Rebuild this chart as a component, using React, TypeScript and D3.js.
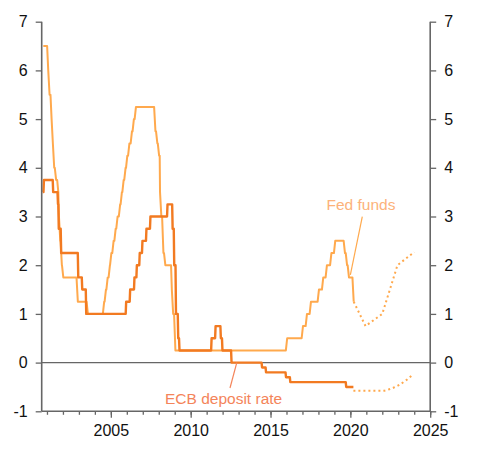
import React from "react";
import * as d3 from "d3";

// Fed funds target (upper bound), change dates as decimal years
const fedStart = { year: 2000.77, rate: 6.5 };
const fedDates = [
  2001.01, 2001.08, 2001.22, 2001.29, 2001.37, 2001.49, 2001.64, 2001.71, 2001.75, 2001.85, 2001.94,
  2002.85, 2003.48,
  2004.5, 2004.61, 2004.72, 2004.86, 2004.95, 2005.09, 2005.22, 2005.34, 2005.5, 2005.61, 2005.72,
  2005.84, 2005.95, 2006.08, 2006.24, 2006.36, 2006.49,
  2007.71, 2007.83, 2007.94, 2008.06, 2008.08, 2008.21, 2008.33, 2008.77, 2008.82, 2008.96,
  2015.96, 2016.95, 2017.2, 2017.45, 2017.95, 2018.22, 2018.45, 2018.73, 2018.97,
  2019.58, 2019.71, 2019.83, 2020.13,
];
const fedRates = [
  6.0, 5.5, 5.0, 4.5, 4.0, 3.75, 3.5, 3.0, 2.5, 2.0, 1.75,
  1.25, 1.0,
  1.25, 1.5, 1.75, 2.0, 2.25, 2.5, 2.75, 3.0, 3.25, 3.5, 3.75,
  4.0, 4.25, 4.5, 4.75, 5.0, 5.25,
  4.75, 4.5, 4.25, 3.5, 3.0, 2.25, 2.0, 1.5, 1.0, 0.25,
  0.5, 0.75, 1.0, 1.25, 1.5, 1.75, 2.0, 2.25, 2.5,
  2.25, 2.0, 1.75, 1.25,
];
const fedEnd = 2020.21;

// ECB deposit facility rate
const ecbStart = { year: 2000.73, rate: 3.5 };
const ecbDates = [
  2000.78, 2001.36, 2001.66, 2001.71, 2001.86, 2002.93, 2003.18, 2003.43,
  2005.93, 2006.18, 2006.45, 2006.6, 2006.78, 2006.95, 2007.2, 2007.45,
  2008.52, 2008.84, 2008.94, 2009.05, 2009.19, 2009.27,
  2011.28, 2011.53, 2011.86, 2011.96, 2012.53,
  2014.44, 2014.69, 2015.94, 2016.21, 2019.71,
];
const ecbRates = [
  3.75, 3.5, 3.25, 2.75, 2.25, 1.75, 1.5, 1.0,
  1.25, 1.5, 1.75, 2.0, 2.25, 2.5, 2.75, 3.0,
  3.25, 2.75, 2.0, 1.0, 0.5, 0.25,
  0.5, 0.75, 0.5, 0.25, 0,
  -0.1, -0.2, -0.3, -0.4, -0.5,
];
const ecbEnd = 2020.19;

// market-implied paths (dotted)
const fedFcYears = [2020.21, 2020.95, 2022.0, 2022.95, 2024.0];
const fedFcRates = [1.25, 0.75, 1.0, 2.0, 2.27];
const ecbFcYears = [2020.19, 2021.0, 2022.0, 2022.5, 2023.0, 2023.5, 2023.9];
const ecbFcRates = [-0.58, -0.58, -0.58, -0.54, -0.47, -0.36, -0.25];

const yTicks = [-1, 0, 1, 2, 3, 4, 5, 6, 7];
const xMajor = [2005, 2010, 2015, 2020, 2025];
const xMinor = d3.range(2001, 2026);

const FED = "#ffa94d";
const ECB = "#f27a21";
const AXIS = "#666";
const FONT = "Arial, 'Liberation Sans', sans-serif";

type Pt = [number, number];

// turn change dates into a path with short ramps between levels
function stepPoints(start: { year: number; rate: number }, dates: number[], rates: number[], end: number, ramp: number): Pt[] {
  const pts: Pt[] = [[start.year, start.rate]];
  let prev = start.rate;
  dates.forEach((t, i) => {
    const next = i + 1 < dates.length ? dates[i + 1] : end;
    pts.push([t, prev]);
    pts.push([Math.min(t + ramp, next), rates[i]]);
    prev = rates[i];
  });
  pts.push([end, prev]);
  return pts;
}

const RateChart: React.FC = () => {
  const svgRef = React.useRef<SVGSVGElement>(null);
  const width = 490;
  const height = 464;

  React.useEffect(() => {
    if (!svgRef.current) return;
    const svg = d3.select(svgRef.current);
    svg.selectAll("*").remove();

    const x = d3.scaleLinear().domain([2000.67, 2025]).range([41.7, 430.2]);
    const y = d3.scaleLinear().domain([-1, 7]).range([411.3, 21.7]);
    const [x0, x1] = x.range();
    const yBottom = y(-1);
    const plain = (d: d3.NumberValue) => String(d);

    // zero line
    svg.append("line")
      .attr("x1", x0).attr("x2", x1)
      .attr("y1", y(0)).attr("y2", y(0))
      .attr("stroke", AXIS).attr("stroke-width", 1.3);

    const line = d3.line<Pt>().x((d) => x(d[0])).y((d) => y(d[1]));
    const smooth = d3.line<Pt>().x((d) => x(d[0])).y((d) => y(d[1])).curve(d3.curveMonotoneX);

    // Fed funds
    svg.append("path")
      .datum(stepPoints(fedStart, fedDates, fedRates, fedEnd, 1 / 12))
      .attr("fill", "none").attr("stroke", FED).attr("stroke-width", 2)
      .attr("stroke-linejoin", "round")
      .attr("d", line);

    // ECB deposit rate
    svg.append("path")
      .datum(stepPoints(ecbStart, ecbDates, ecbRates, ecbEnd, 0.03))
      .attr("fill", "none").attr("stroke", ECB).attr("stroke-width", 2.4)
      .attr("stroke-linejoin", "round")
      .attr("d", line);

    // forecasts
    svg.append("path")
      .datum(fedFcYears.map((t, i) => [t, fedFcRates[i]] as Pt))
      .attr("fill", "none").attr("stroke", FED).attr("stroke-width", 2)
      .attr("stroke-dasharray", "2,3")
      .attr("d", line);

    svg.append("path")
      .datum(ecbFcYears.map((t, i) => [t, ecbFcRates[i]] as Pt))
      .attr("fill", "none").attr("stroke", FED).attr("stroke-width", 2)
      .attr("stroke-dasharray", "2,3")
      .attr("d", smooth);

    // left / right axes
    const yAxisL = d3.axisLeft(y).tickValues(yTicks).tickSize(6).tickPadding(8).tickFormat(plain);
    const yAxisR = d3.axisRight(y).tickValues(yTicks).tickSize(6).tickPadding(8).tickFormat(plain);

    const gl = svg.append("g").attr("transform", `translate(${x0},0)`).call(yAxisL);
    const gr = svg.append("g").attr("transform", `translate(${x1},0)`).call(yAxisR);

    // bottom axis: minor yearly ticks + labelled majors
    const gxMinor = svg.append("g").attr("transform", `translate(0,${yBottom})`)
      .call(d3.axisBottom(x).tickValues(xMinor).tickSize(3.5).tickFormat(() => ""));
    const gx = svg.append("g").attr("transform", `translate(0,${yBottom})`)
      .call(d3.axisBottom(x).tickValues(xMajor).tickSize(6.5).tickPadding(7).tickFormat(plain));
    gxMinor.select(".domain").remove();
    gx.select(".domain").attr("d", `M${x0},0H${x1}`);

    [gl, gr, gx, gxMinor].forEach((g) => {
      g.selectAll(".domain").attr("stroke", AXIS).attr("stroke-width", 1.6);
      g.selectAll(".tick line").attr("stroke", AXIS).attr("stroke-width", 1.3);
      g.selectAll("text")
        .attr("fill", "#111")
        .style("font-family", FONT)
        .style("font-size", "16px");
    });
    gl.select(".domain").attr("d", `M0,${y(7)}V${yBottom}`);
    gr.select(".domain").attr("d", `M0,${y(7)}V${yBottom}`);

    // annotations
    svg.append("line")
      .attr("x1", 362.3).attr("y1", 216.7)
      .attr("x2", x(2020.0)).attr("y2", y(1.8))
      .attr("stroke", FED).attr("stroke-width", 1.2);
    svg.append("text")
      .attr("x", 361).attr("y", 210)
      .attr("text-anchor", "middle")
      .attr("fill", "#fcb27a")
      .style("font-family", FONT).style("font-size", "15.5px")
      .text("Fed funds");

    svg.append("line")
      .attr("x1", 230).attr("y1", 388)
      .attr("x2", 236.8).attr("y2", y(0))
      .attr("stroke", "#f4845a").attr("stroke-width", 1.2);
    svg.append("text")
      .attr("x", 165).attr("y", 403.5)
      .attr("fill", "#f4845a")
      .style("font-family", FONT).style("font-size", "15.5px")
      .text("ECB deposit rate");
  }, []);

  return (
    <svg
      ref={svgRef}
      width={width}
      height={height}
      style={{ position: "absolute", left: 0, top: 0, background: "#fff" }}
    />
  );
};

export default function App() {
  return <RateChart />;
}
